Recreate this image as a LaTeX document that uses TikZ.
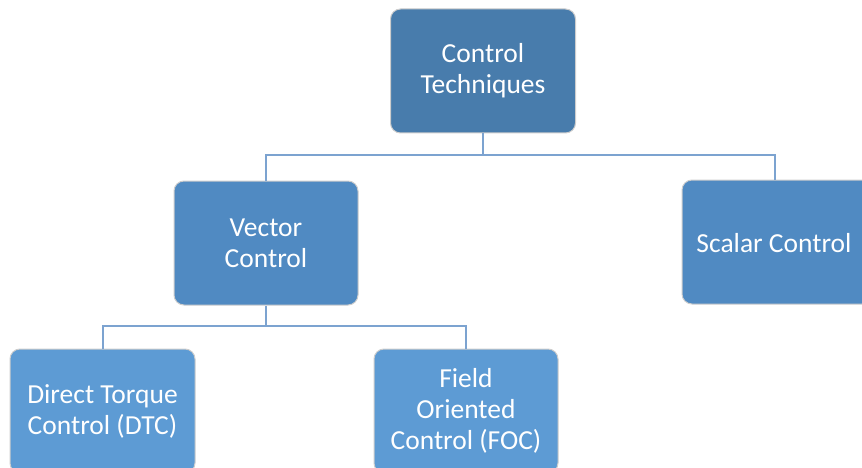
\documentclass[tikz,border=0pt]{standalone}
\usepackage{fontspec}
\setmainfont{Carlito}
\definecolor{topc}{RGB}{72,124,172}
\definecolor{midc}{RGB}{80,138,194}
\definecolor{lowc}{RGB}{93,155,212}
\definecolor{linec}{RGB}{124,163,208}
\definecolor{edgec}{RGB}{205,205,205}
\begin{document}
\begin{tikzpicture}[x=1pt,y=-1pt,
  box/.style={draw=edgec, line width=1pt, rounded corners=10pt, text=white,
    align=center, font=\fontsize{27.5}{31}\selectfont, inner sep=0pt,
    minimum width=185pt, minimum height=124pt},
  conn/.style={draw=linec, line width=2pt}]
\useasboundingbox (0,0) rectangle (862,468);
\clip (0,0) rectangle (862,468);
\node[box, fill=topc] (top) at (483,71) {Control\\Techniques};
\node[box, fill=midc, minimum width=184pt] (vec) at (266,243) {Vector\\Control};
\node[box, fill=midc, minimum width=190pt] (sca) at (777,242) {};
\node[text=white, font=\fontsize{27.5}{31}\selectfont] (scat) at (774,243) {Scalar Control};
\node[box, fill=lowc] (dtc) at (102.5,411) {Direct Torque\\Control (DTC)};
\node[box, fill=lowc, minimum width=184pt] (foc) at (466,411) {Field\\Oriented\\Control (FOC)};
% connectors
\coordinate (j1) at (483,155);
\coordinate (j2) at (266,326);
\draw[conn] (top.south) -- (j1) -| (vec.north);
\draw[conn] (j1) -| ([xshift=-2pt]sca.north);
\draw[conn] (vec.south) -- (j2) -| (dtc.north);
\draw[conn] (j2) -| (foc.north);
\end{tikzpicture}
\end{document}
